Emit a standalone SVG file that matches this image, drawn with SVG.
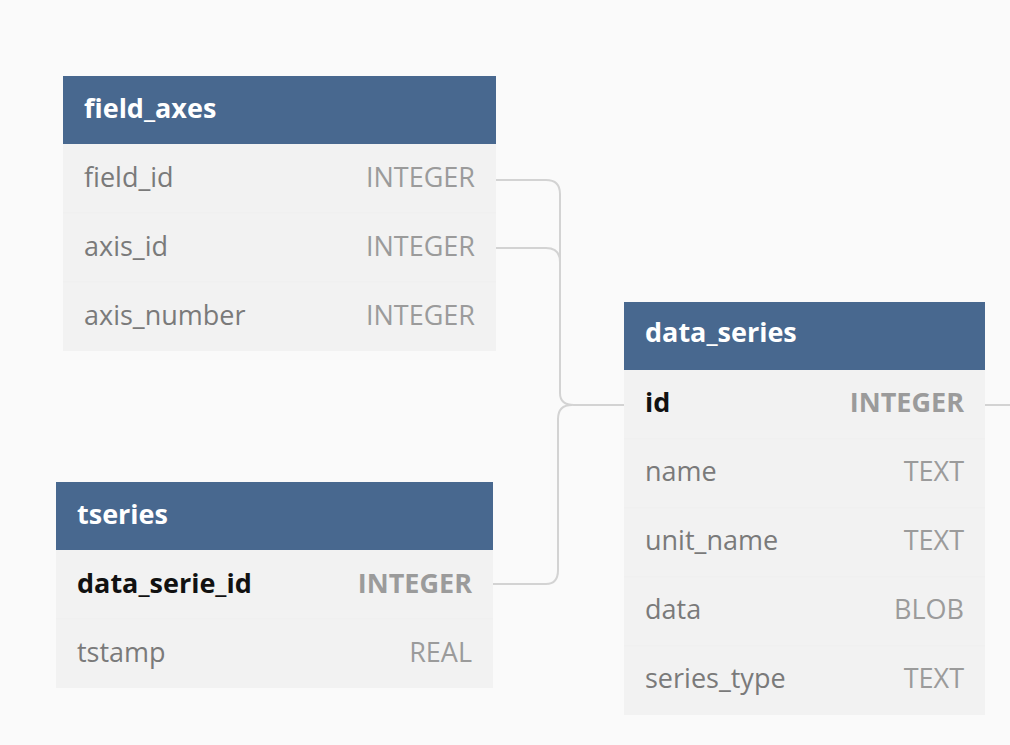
<svg xmlns="http://www.w3.org/2000/svg" width="1010" height="745" viewBox="0 0 1010 745">
<style>
.bg{fill:#fafafa}
.hdr{fill:#48688f}
.row{fill:#f2f2f2}
.sep{stroke:#efefef;stroke-width:1}
.title{font-family:"Open Sans",sans-serif;font-weight:bold;font-size:27px;fill:#ffffff}
.col{font-family:"Open Sans",sans-serif;font-size:27px;fill:#7a7a7a}
.typ{font-family:"Open Sans",sans-serif;font-size:27px;fill:#9b9b9b;text-anchor:end}
.pk{font-family:"Open Sans",sans-serif;font-weight:bold;font-size:27px;fill:#111111}
.pkt{font-family:"Open Sans",sans-serif;font-weight:bold;font-size:27px;fill:#9b9b9b;text-anchor:end}
.conn{fill:none;stroke:#d3d3d3;stroke-width:2}
</style>
<rect class="bg" x="0" y="0" width="1010" height="745"/>
<g id="connectors">
<path class="conn" d="M496,180 H546 Q560,180 560,194 V393 Q560,405 574,405 H624"/>
<path class="conn" d="M496,248 H546 Q560,248 560,262 V393"/>
<path class="conn" d="M493,584 H546 Q558,584 558,570 V419 Q558,405 572,405"/>
<path class="conn" d="M985,405 H1010"/>
</g>
<g id="field_axes">
<rect class="row" x="63" y="144" width="433" height="207"/>
<line class="sep" x1="63" y1="213" x2="496" y2="213"/>
<line class="sep" x1="63" y1="282" x2="496" y2="282"/>
<rect class="hdr" x="63" y="76" width="433" height="68"/>
<text class="title" x="84" y="118">field_axes</text>
<text class="col" x="84" y="187">field_id</text>
<text class="typ" x="475" y="187">INTEGER</text>
<text class="col" x="84" y="256">axis_id</text>
<text class="typ" x="475" y="256">INTEGER</text>
<text class="col" x="84" y="325">axis_number</text>
<text class="typ" x="475" y="325">INTEGER</text>
</g>
<g id="tseries">
<rect class="row" x="56" y="550" width="437" height="138"/>
<line class="sep" x1="56" y1="619" x2="493" y2="619"/>
<rect class="hdr" x="56" y="482" width="437" height="68"/>
<text class="title" x="77" y="524">tseries</text>
<text class="pk" x="77" y="593">data_serie_id</text>
<text class="pkt" x="472" y="593">INTEGER</text>
<text class="col" x="77" y="662">tstamp</text>
<text class="typ" x="472" y="662">REAL</text>
</g>
<g id="data_series">
<rect class="row" x="624" y="370" width="361" height="345"/>
<line class="sep" x1="624" y1="439" x2="985" y2="439"/>
<line class="sep" x1="624" y1="508" x2="985" y2="508"/>
<line class="sep" x1="624" y1="577" x2="985" y2="577"/>
<line class="sep" x1="624" y1="646" x2="985" y2="646"/>
<rect class="hdr" x="624" y="302" width="361" height="68"/>
<text class="title" x="645" y="342">data_series</text>
<text class="pk" x="645" y="412">id</text>
<text class="pkt" x="964" y="412">INTEGER</text>
<text class="col" x="645" y="481">name</text>
<text class="typ" x="964" y="481">TEXT</text>
<text class="col" x="645" y="550">unit_name</text>
<text class="typ" x="964" y="550">TEXT</text>
<text class="col" x="645" y="619">data</text>
<text class="typ" x="964" y="619">BLOB</text>
<text class="col" x="645" y="688">series_type</text>
<text class="typ" x="964" y="688">TEXT</text>
</g>
</svg>
